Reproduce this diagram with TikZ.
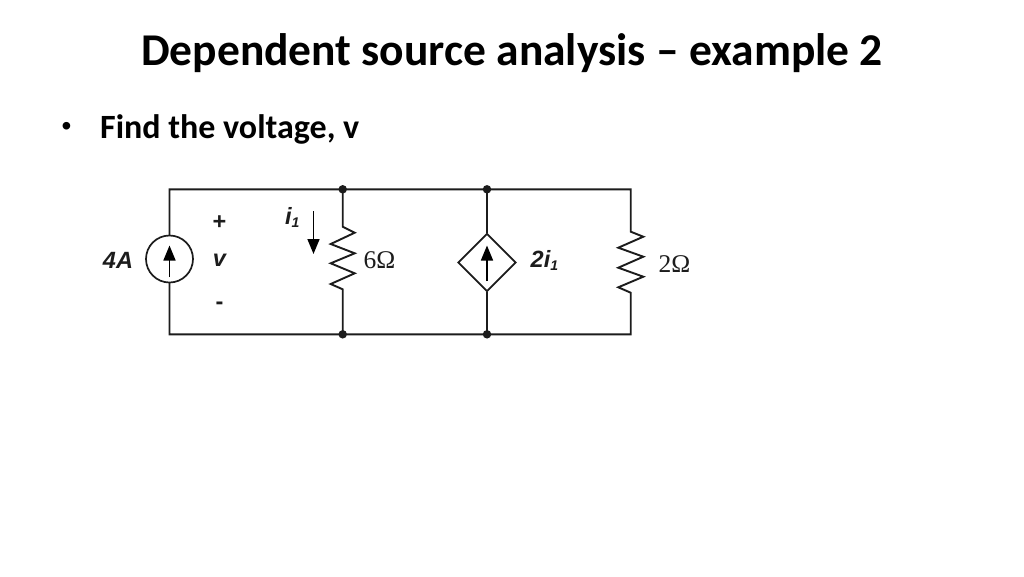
\documentclass[tikz,border=0pt]{standalone}
\usepackage{fontspec}
\setmainfont{Carlito}
\newfontfamily\lab{Liberation Sans}
\newfontfamily\ser{Liberation Serif}
\usetikzlibrary{arrows.meta,shapes.geometric}
\definecolor{wire}{HTML}{1C1C1C}
\tikzset{
  x=1pt,y=-1pt,
  wireline/.style={draw=wire,line width=1.9pt,line cap=round,line join=miter},
  dot/.style={circle,fill=wire,inner sep=0pt,minimum size=8.5pt},
  srcarrow/.style={draw=black,line width=1.6pt,-{Triangle[length=15pt,width=12pt]}},
  lbl/.style={inner sep=0pt,font=\lab\bfseries\itshape\fontsize{23.5}{26}\selectfont,text=wire},
  sym/.style={inner sep=0pt,font=\lab\bfseries\fontsize{23.5}{26}\selectfont,text=wire},
  ohm/.style={inner sep=0pt,font=\ser\fontsize{25.5}{28}\selectfont,text=wire},
  title/.style={inner sep=0pt,font=\bfseries\fontsize{45.5}{50}\selectfont,text=black},
  body/.style={inner sep=0pt,font=\bfseries\fontsize{34}{38}\selectfont,text=black,anchor=base west}
}
\begin{document}
\begin{tikzpicture}
\useasboundingbox (0,0) rectangle (1024,576);
\fill[white] (0,0) rectangle (1024,576);
\node[title,anchor=base] (T) at (512,65) {Dependent source analysis – example 2};
\node[inner sep=0pt,anchor=base,font=\lab\fontsize{28}{30}\selectfont] (B) at (66.5,135) {•};
\node[body] (F) at (100,138) {Find the voltage, v};

\coordinate (TL) at (169.5,189.3);
\coordinate (BL) at (169.5,334.3);
\coordinate (TR) at (630.7,189.3);
\coordinate (BR) at (630.7,334.3);
\node[dot] (n1) at (342.7,189.3) {};
\node[dot] (n2) at (487,189.3) {};
\node[dot] (n3) at (342.7,334.3) {};
\node[dot] (n4) at (487,334.3) {};
\node[circle,draw=wire,line width=1.7pt,minimum size=47pt,inner sep=0pt] (S) at (169.5,259) {};
\node[diamond,draw=wire,line width=1.8pt,minimum width=58pt,minimum height=58pt,inner sep=0pt,aspect=1] (D) at (487,262.5) {};

\draw[wireline] (S.north) -- (TL) -- (n1.center) -- (n2.center) -- (TR) -- (630.7,231.7)
  -- (643.3,236.7) -- (618.3,247.7) -- (643.3,256.7) -- (618.3,267.7) -- (643.3,276.7) -- (618.3,287.3) -- (630.7,292.7)
  -- (BR) -- (n4.center) -- (n3.center) -- (BL) -- (S.south);
\draw[wireline] (n1.center) -- (342.7,226.7)
  -- (354.7,232.7) -- (330.7,244) -- (354.7,253.3) -- (330.7,263.3) -- (354.7,273.3) -- (330.7,284) -- (342.7,289.3) -- (n3.center);
\draw[wireline] (n2.center) -- (D.north);
\draw[wireline] (D.south) -- (n4.center);

\coordinate (sa) at (169.5,277);
\coordinate (sb) at (169.5,245.5);
\draw[srcarrow] (sa) -- (sb);
\coordinate (da) at (487,281);
\coordinate (db) at (487,245.5);
\draw[srcarrow] (da) -- (db);
\coordinate (ia) at (313.5,211);
\coordinate (ib) at (313.5,254);
\draw[srcarrow] (ia) -- (ib);

\node[lbl] (l4A) at (118,260) {4A};
\node[sym] (plus) at (219.5,223) {+};
\node[lbl] (v) at (219.5,260.5) {v};
\node[sym] (minus) at (219.5,306) {-};
\node[lbl,anchor=base west] (i1) at (285,224) {i\raisebox{-3pt}{\fontsize{14}{14}\selectfont 1}};
\node[ohm,anchor=base west] (r6) at (363.5,268) {6\symbol{"03A9}};
\node[lbl,anchor=base west] (di) at (530.5,267.5) {2i\raisebox{-3pt}{\fontsize{14}{14}\selectfont 1}};
\node[ohm,anchor=base west] (r2) at (658.5,272) {2\symbol{"03A9}};
\end{tikzpicture}
\end{document}
